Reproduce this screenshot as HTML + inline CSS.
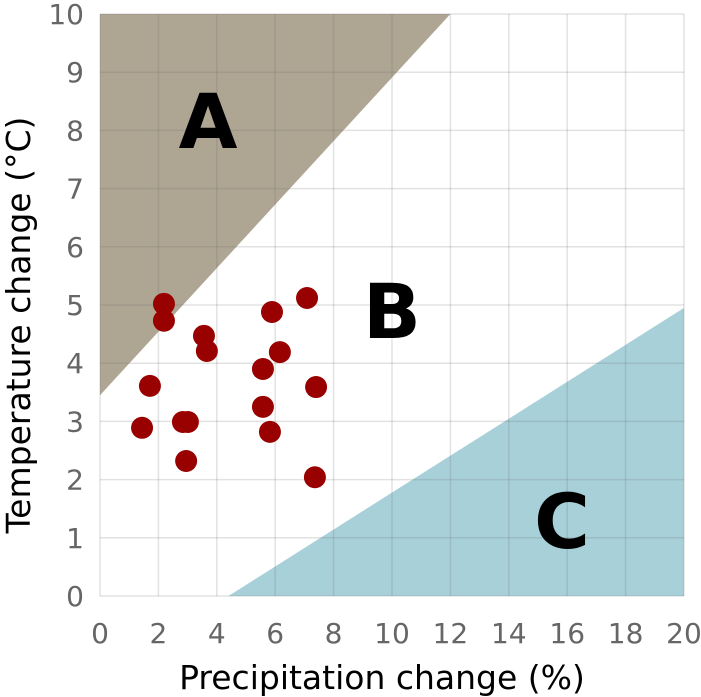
<!DOCTYPE html>
<html><head><meta charset="utf-8"><style>body{margin:0;background:#fff}svg{display:block}</style></head>
<body>
<svg id="chart" width="701" height="697" font-family="'DejaVu Sans','Liberation Sans',sans-serif">
<g id="fills"></g><g id="grid"></g><g id="labels"></g><g id="pts"></g>
</svg>
<script>
const xTicks=[0,2,4,6,8,10,12,14,16,18,20];
const yTicks=[0,1,2,3,4,5,6,7,8,9,10];
const precip=[2.19,2.19,3.56,3.66,1.71,1.44,2.84,3.01,2.95,5.89,7.09,6.16,5.58,7.40,5.58,5.82,7.36];
const temp=[5.02,4.73,4.47,4.21,3.61,2.89,2.99,2.99,2.32,4.88,5.12,4.19,3.90,3.59,3.25,2.82,2.04];
const regionA=[[0,3.45],[12,10],[0,10]];
const regionC=[[4.4,0],[20,4.95],[20,0]];
const NS='http://www.w3.org/2000/svg';
const X=v=>100+v*29.2, Y=v=>596-v*58.2;
function mk(t,a,p){const e=document.createElementNS(NS,t);for(const k in a)e.setAttribute(k,a[k]);p.appendChild(e);return e;}
const fills=document.getElementById('fills'),grid=document.getElementById('grid'),labels=document.getElementById('labels'),pts=document.getElementById('pts');
const pa=mk('polygon',{points:regionA.map(p=>X(p[0])+','+Y(p[1])).join(' '),fill:'#aea593'},fills);


const pc=mk('polygon',{points:regionC.map(p=>X(p[0])+','+Y(p[1])).join(' '),fill:'#a8d0d9'},fills);


xTicks.forEach(v=>{
 const l=mk('line',{x1:X(v),x2:X(v),y1:Y(0),y2:Y(10),stroke:'rgba(110,110,110,0.2)','stroke-width':1.5},grid);
 
 
 const t=mk('text',{x:X(v),y:643,'text-anchor':'middle','font-size':28,fill:'#666'},grid);t.textContent=v;
 
 
});
yTicks.forEach(v=>{
 const l=mk('line',{x1:X(0),x2:X(20),y1:Y(v),y2:Y(v),stroke:'rgba(110,110,110,0.2)','stroke-width':1.5},grid);
 
 
 const t=mk('text',{x:84,y:Y(v)+10,'text-anchor':'end','font-size':28,fill:'#666'},grid);t.textContent=v;
 
 
});
const xt=mk('text',{x:382,y:689,'text-anchor':'middle','font-size':33,fill:'#000'},labels);xt.textContent='Precipitation change (%)';


const yt=mk('text',{x:0,y:0,transform:'translate(30,325) rotate(-90)','text-anchor':'middle','font-size':33,fill:'#000'},labels);yt.textContent='Temperature change (°C)';


[['A',208,148],['B',392,338],['C',562,548]].forEach(d=>{
 const t=mk('text',{x:d[1],y:d[2],'text-anchor':'middle','font-size':76,'font-weight':'bold',fill:'#000'},labels);t.textContent=d[0];
 
 
});
precip.forEach((p,i)=>{
 const c=mk('circle',{cx:X(p),cy:Y(temp[i]),r:11,fill:'#990000'},pts);
 
 
});
</script>
</body></html>
